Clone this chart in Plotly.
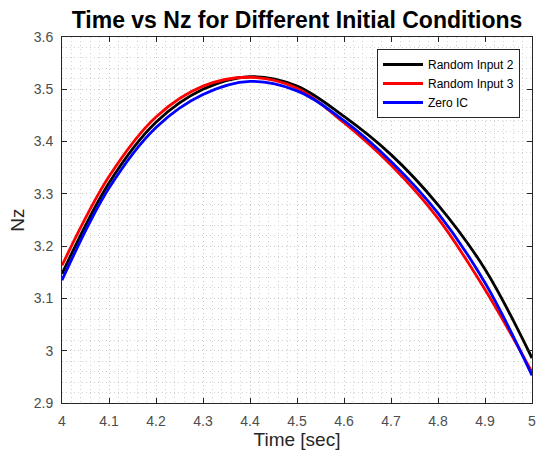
import plotly.graph_objects as go

time_sec = [4.0, 4.1, 4.2, 4.3, 4.4, 4.5, 4.6, 4.7, 4.8, 4.9, 5.0]
nz_random2 = [3.147, 3.321, 3.437, 3.500, 3.524, 3.506, 3.448, 3.375, 3.279, 3.156, 2.986]
nz_random3 = [3.163, 3.333, 3.447, 3.506, 3.523, 3.502, 3.436, 3.355, 3.253, 3.117, 2.959]
nz_zero_ic = [3.135, 3.311, 3.427, 3.490, 3.515, 3.497, 3.440, 3.362, 3.263, 3.130, 2.953]

series_names = ["Random Input 2", "Random Input 3", "Zero IC"]
series_colors = ["#000000", "#ff0000", "#0000ff"]
x_ticks = [4.0, 4.1, 4.2, 4.3, 4.4, 4.5, 4.6, 4.7, 4.8, 4.9, 5.0]
x_tick_labels = ["4", "4.1", "4.2", "4.3", "4.4", "4.5", "4.6", "4.7", "4.8", "4.9", "5"]
y_ticks = [2.9, 3.0, 3.1, 3.2, 3.3, 3.4, 3.5, 3.6]
y_tick_labels = ["2.9", "3", "3.1", "3.2", "3.3", "3.4", "3.5", "3.6"]

FONT = "Liberation Sans, Arial, sans-serif"
GRID_DASH = "1px,3px"

W, H = 536, 455

fig = go.Figure()
for name, vals, col in zip(series_names, [nz_random2, nz_random3, nz_zero_ic], series_colors):
    fig.add_trace(go.Scatter(x=time_sec, y=vals, mode="lines", name=name,
                             line=dict(color=col, width=2.8, shape="spline", smoothing=1.0)))

axis_common = dict(
    showline=True, linecolor="#262626", linewidth=1, mirror="allticks",
    ticks="inside", ticklen=5, tickcolor="#262626", tickwidth=1,
    showgrid=True, gridcolor="#c4c4c4", gridwidth=1, griddash=GRID_DASH,
    zeroline=False, automargin=False, ticklabeloverflow="allow",
    tickfont=dict(family=FONT, size=14, color="#4d4d4d"),
)
minor_common = dict(showgrid=True, gridcolor="#d2d2d2", griddash=GRID_DASH, gridwidth=1, ticks="")

fig.update_layout(
    width=W, height=H,
    margin=dict(l=62, r=4, t=37, b=52, autoexpand=False),
    paper_bgcolor="white", plot_bgcolor="white",
    title=dict(text="<b>Time vs Nz for Different Initial Conditions</b>",
               x=297 / W, xanchor="center",
               y=1 - 20 / H, yanchor="middle",
               font=dict(family=FONT, size=23, color="#000000")),
    xaxis=dict(range=[4, 5], tickvals=x_ticks, ticktext=x_tick_labels,
               minor=dict(dtick=0.02, tick0=4, **minor_common),
               title=dict(text="Time [sec]", font=dict(family=FONT, size=19, color="#262626"),
                          standoff=2),
               ticklabelstandoff=5,
               **axis_common),
    yaxis=dict(range=[2.9, 3.6], tickvals=y_ticks, ticktext=y_tick_labels,
               minor=dict(dtick=0.02, tick0=2.9, **minor_common),
               title=dict(text="Nz", font=dict(family=FONT, size=19, color="#262626"),
                          standoff=4),
               ticklabelstandoff=5,
               **axis_common),
    legend=dict(x=(520 - 62) / 470, xanchor="right", y=1 - 12 / 366, yanchor="top",
                bgcolor="white", bordercolor="#262626", borderwidth=1,
                font=dict(family=FONT, size=12, color="#000000"),
                itemwidth=40, tracegroupgap=0),
    showlegend=True,
)

fig.write_html("out.html", config={"displayModeBar": False},
               post_script="document.body.style.margin='0';document.body.style.overflow='hidden';")
